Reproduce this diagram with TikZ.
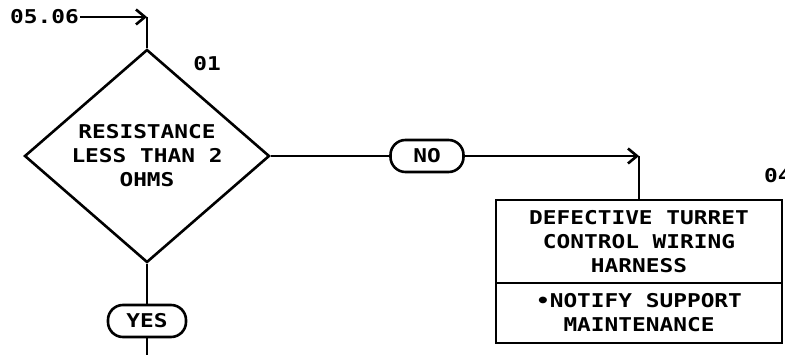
\documentclass[tikz,border=0pt]{standalone}
\usepackage{fontspec}
\setmainfont{DejaVu Sans Mono}[FakeStretch=1.2]
\usetikzlibrary{arrows.meta,shapes.geometric,positioning}

\tikzset{
  flow/.style={line width=2.6pt},
  tip/.style={-{Straight Barb[length=9pt,width=15pt]}},
  txt/.style={font=\fontsize{19}{24}\selectfont\bfseries},
  decision/.style={draw,flow,txt,diamond,aspect=1.15,minimum width=245pt,minimum height=213pt,inner sep=0pt,align=center},
  answer/.style={draw,flow,txt,rounded corners=15pt,minimum height=32pt,inner sep=0pt},
  result/.style={draw,flow,txt,minimum width=286pt,inner sep=0pt,outer sep=0pt,align=center},
}

\begin{document}
\begin{tikzpicture}[x=1pt,y=-1pt]
  \useasboundingbox (0,0) rectangle (785,355);

  \node[txt,anchor=east,inner sep=1pt] (entry) at (80,17) {05.06}; %Entry reference
  \node[decision] (check) at (147,156) {RESISTANCE\\LESS THAN 2\\OHMS}; %Step 01
  \node[txt] (ref01) at (207,64) {01};

  \node[answer,minimum width=73pt] (no) at (427,156) {NO};
  \node[answer,minimum width=78pt] (yes) at (147,321) {YES};

  \node[result,minimum height=83pt] (harness) at (639,241.5) {DEFECTIVE TURRET\\CONTROL WIRING\\HARNESS}; %Step 04
  \node[result,minimum height=60pt,below=0pt of harness] (notify) {\textbullet NOTIFY SUPPORT\\MAINTENANCE};
  \node[txt,anchor=west,inner sep=0pt] (ref04) at (764,176) {04};

  \coordinate (bendin) at (147,17);
  \coordinate (bendno) at (639,156);
  \coordinate (exit) at (147,355);

  \draw[flow,tip] (entry.east) -- (bendin);
  \draw[flow] (bendin) -- (check.north);
  \draw[flow] (check.east) -- (no.west);
  \draw[flow,tip] (no.east) -- (bendno);
  \draw[flow] (bendno) -- (harness.north);
  \draw[flow] (check.south) -- (yes.north);
  \draw[flow] (yes.south) -- (exit);
\end{tikzpicture}
\end{document}
